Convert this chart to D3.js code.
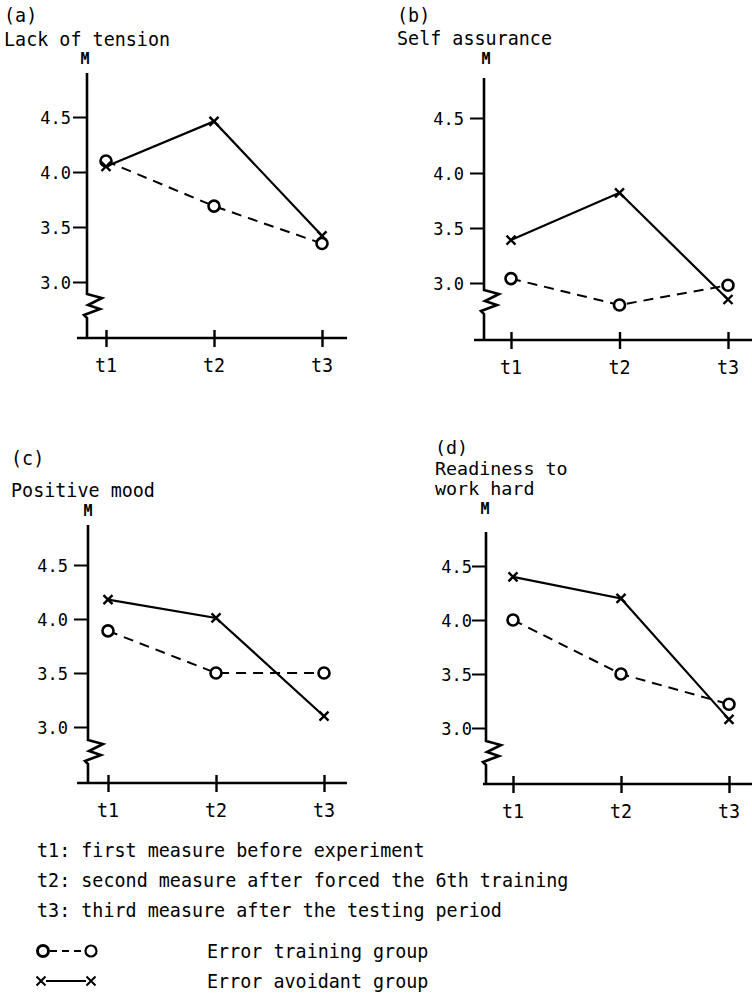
<!DOCTYPE html>
<html>
<head>
<meta charset="utf-8">
<script src="https://cdn.jsdelivr.net/npm/d3@7"></script>
<style>
  html, body { margin: 0; padding: 0; background: #fff; }
  svg { display: block; }
</style>
</head>
<body>
<svg id="chart" width="752" height="995"></svg>
<script>
// ---------------- data ----------------
const categories = ["t1", "t2", "t3"];
const yTicks = [3.0, 3.5, 4.0, 4.5];

const trainingA = [4.10, 3.69, 3.35];
const avoidantA = [4.05, 4.46, 3.42];
const trainingB = [3.04, 2.80, 2.98];
const avoidantB = [3.39, 3.82, 2.85];
const trainingC = [3.89, 3.50, 3.50];
const avoidantC = [4.18, 4.01, 3.10];
const trainingD = [4.00, 3.50, 3.22];
const avoidantD = [4.40, 4.20, 3.08];

const panelLetters = ["(a)", "(b)", "(c)", "(d)"];
const panelTitles = [["Lack of tension"], ["Self assurance"], ["Positive mood"], ["Readiness to", "work hard"]];
const axisLabel = "M";
const notes = [
  "t1: first measure before experiment",
  "t2: second measure after forced the 6th training",
  "t3: third measure after the testing period"
];
const legendLabels = ["Error training group", "Error avoidant group"];

// ---------------- layout ----------------
const layout = [
  {ax: 87,  top: 73,  y45: 117, y30: 282, brk: 294, xAxisY: 338, xL: 77,  xR: 347, t1: 106, t3: 322,
   tx: 4,   letterY: 22,  titleY: [46],       mX: 85,  mY: 64,  gap: 16, fs: 20, sx: 0.92},
  {ax: 484, top: 78,  y45: 118, y30: 283, brk: 290, xAxisY: 340, xL: 474, xR: 752, t1: 511, t3: 728,
   tx: 397, letterY: 22,  titleY: [45],       mX: 486, mY: 64,  gap: 20, fs: 20, sx: 0.92},
  {ax: 88,  top: 525, y45: 565, y30: 727, brk: 740, xAxisY: 783, xL: 77,  xR: 347, t1: 108, t3: 324,
   tx: 11,  letterY: 465, titleY: [497],      mX: 88,  mY: 516, gap: 20, fs: 20, sx: 0.92},
  {ax: 486, top: 532, y45: 566, y30: 728, brk: 741, xAxisY: 784, xL: 483, xR: 752, t1: 513, t3: 729,
   tx: 435, letterY: 454, titleY: [475, 495], mX: 485, mY: 514, gap: 14, fs: 17, sx: 1.08}
];
const series = [
  [trainingA, avoidantA],
  [trainingB, avoidantB],
  [trainingC, avoidantC],
  [trainingD, avoidantD]
];

const svg = d3.select("#chart")
  .attr("font-family", "'DejaVu Sans Mono', monospace")
  .style("font-family", "'DejaVu Sans Mono', monospace");

function txt(sel, x, y, s, size, anchor, sx) {
  return sel.append("text")
    .attr("transform", `translate(${x},${y}) scale(${sx || 0.92},1)`)
    .attr("font-size", size)
    .attr("text-anchor", anchor || "start")
    .attr("fill", "#000")
    .text(s);
}

layout.forEach((L, i) => {
  const g = svg.append("g");
  const x = d3.scalePoint().domain(categories).range([L.t1, L.t3]);
  const y = d3.scaleLinear().domain([3.0, 4.5]).range([L.y30, L.y45]);

  // titles
  txt(g, L.tx, L.letterY, panelLetters[i], L.fs, "start", L.sx);
  panelTitles[i].forEach((t, k) => txt(g, L.tx, L.titleY[k], t, L.fs, "start", L.sx));
  g.append("text").attr("x", L.mX).attr("y", L.mY).attr("font-size", 15)
    .attr("text-anchor", "middle").attr("fill", "#000").attr("font-weight", "bold").text(axisLabel);

  // y axis (ticks + labels through d3 axis)
  const yAxis = d3.axisLeft(y).tickValues(yTicks).tickSize(14).tickPadding(L.gap - 14)
    .tickFormat(d3.format(".1f"));
  const yg = g.append("g").attr("transform", `translate(${L.ax},0)`).call(yAxis);
  yg.select(".domain").remove();
  yg.selectAll(".tick line").attr("stroke", "#000").attr("stroke-width", 2);
  yg.selectAll(".tick text")
    .attr("font-family", "'DejaVu Sans Mono', monospace")
    .attr("font-size", 17).attr("fill", "#000")
    .attr("dy", "0.36em");

  // y axis line with break
  const zig = [[0, 0], [15, 4], [1, 11], [13, 15], [-3, 21], [0, 24]];
  const pts = [[L.ax, L.top]].concat(zig.map(p => [L.ax + p[0], L.brk + p[1]])).concat([[L.ax, L.xAxisY]]);
  g.append("path").attr("d", d3.line()(pts)).attr("fill", "none")
    .attr("stroke", "#000").attr("stroke-width", 2.6).attr("stroke-linejoin", "miter");

  // x axis
  g.append("line").attr("x1", L.xL).attr("x2", L.xR).attr("y1", L.xAxisY).attr("y2", L.xAxisY)
    .attr("stroke", "#000").attr("stroke-width", 2.4);
  const xAxis = d3.axisBottom(x).tickSize(9).tickPadding(16);
  const xg = g.append("g").attr("transform", `translate(0,${L.xAxisY})`).call(xAxis);
  xg.select(".domain").remove();
  xg.selectAll(".tick line").attr("y1", -8).attr("y2", 9).attr("stroke", "#000").attr("stroke-width", 2.4);
  xg.selectAll(".tick text").remove();
  categories.forEach(c => txt(g, x(c), L.xAxisY + 34, c, 20, "middle"));

  // lines
  const [train, avoid] = series[i];
  const line = d3.line().x((d, k) => x(categories[k])).y(d => y(d));
  g.append("path").datum(avoid).attr("d", line).attr("fill", "none")
    .attr("stroke", "#000").attr("stroke-width", 2.2);
  g.append("path").datum(train).attr("d", line).attr("fill", "none")
    .attr("stroke", "#000").attr("stroke-width", 2).attr("stroke-dasharray", "10,7");

  // circle markers
  g.selectAll(".circ").data(train).enter().append("circle")
    .attr("cx", (d, k) => x(categories[k])).attr("cy", d => y(d)).attr("r", 5.5)
    .attr("fill", "#fff").attr("stroke", "#000").attr("stroke-width", 2.6);

  // cross markers
  const s = 4.5;
  avoid.forEach((d, k) => {
    const cx = x(categories[k]), cy = y(d);
    g.append("path")
      .attr("d", `M${cx - s},${cy - s}L${cx + s},${cy + s}M${cx - s},${cy + s}L${cx + s},${cy - s}`)
      .attr("stroke", "#000").attr("stroke-width", 2.4).attr("fill", "none");
  });
});

// notes
const ng = svg.append("g");
notes.forEach((n, k) => txt(ng, 37, 857 + k * 30, n, 20));

// legend
const lg = svg.append("g");
// training (circle dashed circle)
lg.append("line").attr("x1", 50).attr("x2", 85).attr("y1", 951).attr("y2", 951)
  .attr("stroke", "#000").attr("stroke-width", 2).attr("stroke-dasharray", "7,5");
lg.append("circle").attr("cx", 43).attr("cy", 951).attr("r", 5.5)
  .attr("fill", "#fff").attr("stroke", "#000").attr("stroke-width", 3);
lg.append("circle").attr("cx", 91).attr("cy", 951).attr("r", 5.5)
  .attr("fill", "#fff").attr("stroke", "#000").attr("stroke-width", 2.2);
// avoidant (x solid x)
lg.append("line").attr("x1", 46).attr("x2", 86).attr("y1", 981).attr("y2", 981)
  .attr("stroke", "#000").attr("stroke-width", 2.2);
[41, 91].forEach(cx => {
  const s = 4.5, cy = 981;
  lg.append("path")
    .attr("d", `M${cx - s},${cy - s}L${cx + s},${cy + s}M${cx - s},${cy + s}L${cx + s},${cy - s}`)
    .attr("stroke", "#000").attr("stroke-width", 2).attr("fill", "none");
});
legendLabels.forEach((t, k) => txt(lg, 207, 958 + k * 30, t, 20));
</script>
</body>
</html>
